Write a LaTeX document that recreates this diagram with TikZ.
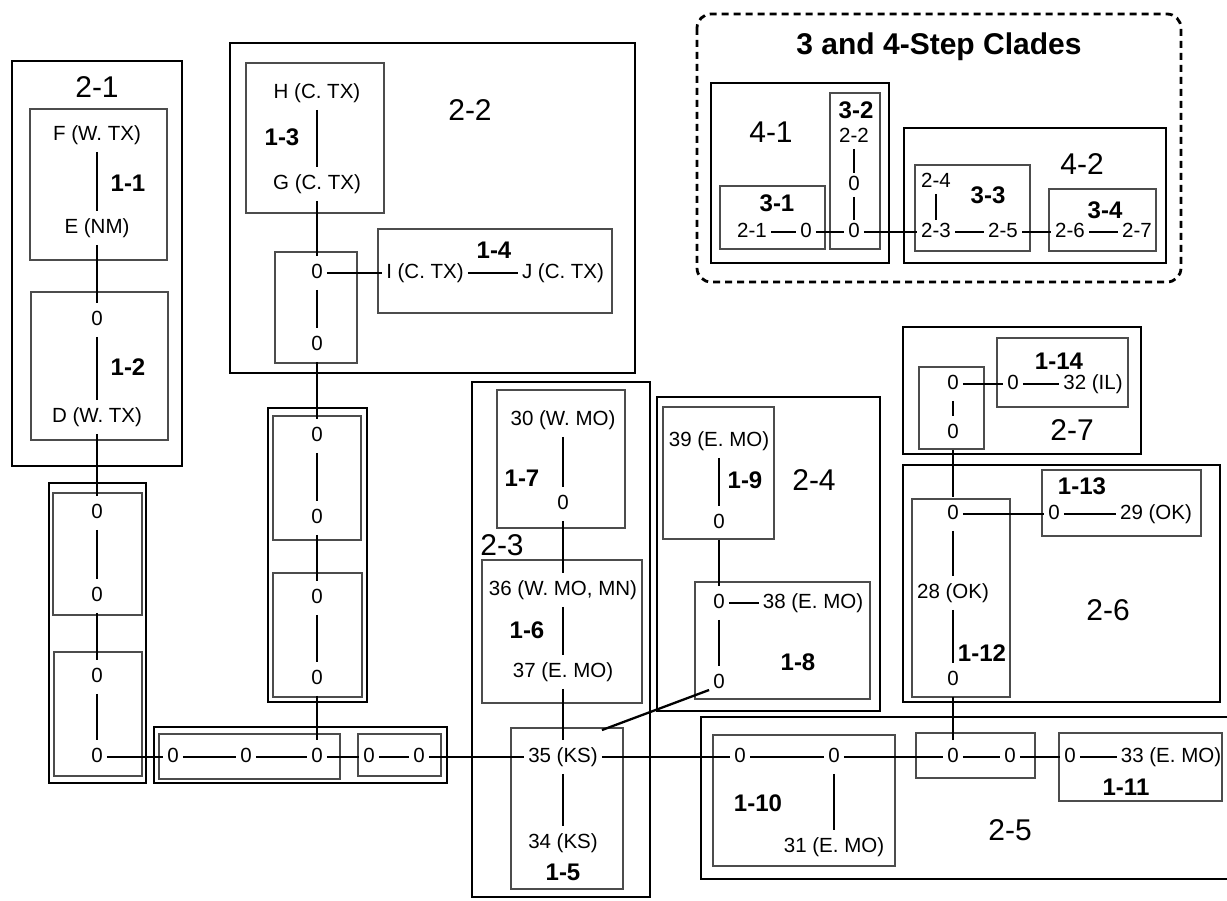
\documentclass[tikz,border=0pt]{standalone}
\usepackage{fontspec}
\setmainfont{Liberation Sans}

\begin{document}
\begin{tikzpicture}[
    x=1pt, y=-1pt,
    clade/.style={draw=black, line width=2.6pt},
    subclade/.style={draw=black!70, line width=1.2pt},
    hap/.style={font=\fontsize{20.5}{24}\selectfont, inner xsep=4pt, inner ysep=7pt, text height=15pt, text depth=4.5pt},
    cnode/.style={hap, inner ysep=2pt},
    steplab/.style={font=\fontsize{24}{28}\selectfont\bfseries},
    levellab/.style={font=\fontsize{30}{34}\selectfont},
    cladetitle/.style={font=\fontsize{30}{34}\selectfont\bfseries},
    link/.style={line width=2.3pt},
  ]
    \useasboundingbox (0,0) rectangle (1227,901);

    \draw[clade] (12,61) rectangle (182,466);
    \draw[subclade] (30,109) rectangle (167,260);
    \draw[subclade] (31,292) rectangle (168,440);
    \draw[clade] (49,483) rectangle (146,783);
    \draw[subclade] (53,493) rectangle (142,615);
    \draw[subclade] (54,652) rectangle (142,776);
    \draw[clade] (154,727) rectangle (447,783);
    \draw[subclade] (159,734) rectangle (340,779);
    \draw[subclade] (358,734) rectangle (441,776);

    \draw[clade] (230,43) rectangle (635,373);
    \draw[subclade] (246,63) rectangle (384,213);
    \draw[subclade] (275,252) rectangle (357,363);
    \draw[subclade] (378,229) rectangle (612,313);
    \draw[clade] (268,408) rectangle (367,702);
    \draw[subclade] (273,416) rectangle (361,540);
    \draw[subclade] (273,573) rectangle (362,697);

    \draw[clade] (472,382) rectangle (650,897);
    \draw[subclade] (497,390) rectangle (625,528);
    \draw[subclade] (482,560) rectangle (642,703);
    \draw[subclade] (511,728) rectangle (623,889);

    \draw[clade] (657,397) rectangle (880,711);
    \draw[subclade] (663,407) rectangle (774,539);
    \draw[subclade] (695,582) rectangle (870,699);

    \draw[clade] (1227,717) -- (701,717) -- (701,879) -- (1227,879);
    \draw[subclade] (713,735) rectangle (895,866);
    \draw[subclade] (916,733) rectangle (1035,778);
    \draw[subclade] (1059,733) rectangle (1222,801);

    \draw[clade] (903,465) rectangle (1220,702);
    \draw[subclade] (912,499) rectangle (1010,697);
    \draw[subclade] (1042,470) rectangle (1201,536);

    \draw[clade] (903,327) rectangle (1141,454);
    \draw[subclade] (919,367) rectangle (984,449);
    \draw[subclade] (997,338) rectangle (1128,407);

    \draw[line width=2.8pt, dash pattern=on 7pt off 5pt, rounded corners=14pt] (697,14) rectangle (1181,282);
    \draw[clade] (711,83) rectangle (889,263);
    \draw[subclade] (720,186) rectangle (825,249);
    \draw[subclade] (830,93) rectangle (880,249);
    \draw[clade] (904,128) rectangle (1166,263);
    \draw[subclade] (915,165) rectangle (1030,251);
    \draw[subclade] (1049,189) rectangle (1156,251);

    \node[levellab] (l21) at (97,87) {2-1};
    \node[steplab] (l11) at (128,183) {1-1};
    \node[steplab] (l12) at (128,367) {1-2};
    \node[levellab] (l22) at (470,110) {2-2};
    \node[steplab] (l13) at (282,137) {1-3};
    \node[steplab] (l14) at (494,250) {1-4};
    \node[levellab] (l23) at (502,545) {2-3};
    \node[steplab] (l17) at (522,478) {1-7};
    \node[steplab] (l16) at (527,630) {1-6};
    \node[steplab] (l15) at (563,872) {1-5};
    \node[levellab] (l24) at (814,480) {2-4};
    \node[steplab] (l19) at (745,480) {1-9};
    \node[steplab] (l18) at (798,662) {1-8};
    \node[levellab] (l25) at (1010,830) {2-5};
    \node[steplab] (l110) at (758,803) {1-10};
    \node[steplab] (l111) at (1126,787) {1-11};
    \node[levellab] (l26) at (1108,610) {2-6};
    \node[steplab] (l112) at (982,653) {1-12};
    \node[steplab] (l113) at (1082,486) {1-13};
    \node[levellab] (l27) at (1072,430) {2-7};
    \node[steplab] (l114) at (1059,361) {1-14};

    \node[cladetitle] (ttl) at (939,47) {3 and 4-Step Clades};
    \node[levellab] (l41) at (771,132) {4-1};
    \node[levellab] (l42) at (1082,164) {4-2};
    \node[steplab] (l31) at (777,203) {3-1};
    \node[steplab] (l32) at (856,110) {3-2};
    \node[steplab] (l33) at (988,195) {3-3};
    \node[steplab] (l34) at (1105,210) {3-4};

    \node[hap] (F) at (97,135) {F (W. TX)};
    \node[hap] (E) at (97,228) {E (NM)};
    \node[hap] (z12) at (97,320) {0};
    \node[hap] (D) at (97,417) {D (W. TX)};
    \node[hap] (za1) at (97,513) {0};
    \node[hap] (za2) at (97,596) {0};
    \node[hap] (za3) at (97,677) {0};
    \node[hap] (za4) at (97,757) {0};
    \node[hap] (zc1) at (173,757) {0};
    \node[hap] (zc2) at (246,757) {0};
    \node[hap] (zc3) at (317,757) {0};
    \node[hap] (zc4) at (369,757) {0};
    \node[hap] (zc5) at (419,757) {0};

    \node[hap] (H) at (317,93) {H (C. TX)};
    \node[hap] (G) at (317,184) {G (C. TX)};
    \node[hap] (zb1) at (317,273) {0};
    \node[hap] (zb2) at (317,345) {0};
    \node[hap] (I) at (425,273) {I (C. TX)};
    \node[hap] (J) at (563,273) {J (C. TX)};
    \node[hap] (zm1) at (317,436) {0};
    \node[hap] (zm2) at (317,518) {0};
    \node[hap] (zm3) at (317,598) {0};
    \node[hap] (zm4) at (317,679) {0};

    \node[hap] (n30) at (563,420) {30 (W. MO)};
    \node[hap] (z7) at (563,504) {0};
    \node[hap] (n36) at (563,590) {36 (W. MO, MN)};
    \node[hap] (n37) at (563,672) {37 (E. MO)};
    \node[hap] (n35) at (563,757) {35 (KS)};
    \node[hap] (n34) at (563,843) {34 (KS)};

    \node[hap] (n39) at (719,441) {39 (E. MO)};
    \node[hap] (z9) at (719,523) {0};
    \node[hap] (z8a) at (719,603) {0};
    \node[hap] (n38) at (813,603) {38 (E. MO)};
    \node[hap] (z8b) at (719,683) {0};

    \node[hap] (z10a) at (740,757) {0};
    \node[hap] (z10b) at (834,757) {0};
    \node[hap] (n31) at (834,847) {31 (E. MO)};
    \node[hap] (z25a) at (953,757) {0};
    \node[hap] (z25b) at (1010,757) {0};
    \node[hap] (z11) at (1070,757) {0};
    \node[hap] (n33) at (1171,757) {33 (E. MO)};

    \node[hap] (z26a) at (953,514) {0};
    \node[hap] (n28) at (953,593) {28 (OK)};
    \node[hap] (z26b) at (953,680) {0};
    \node[hap] (z13) at (1054,514) {0};
    \node[hap] (n29) at (1156,514) {29 (OK)};

    \node[hap] (z27a) at (953,384) {0};
    \node[hap] (z27b) at (953,433) {0};
    \node[hap] (z14) at (1013,384) {0};
    \node[hap] (n32) at (1093,384) {32 (IL)};

    \node[cnode] (c21) at (752,232) {2-1};
    \node[cnode] (cz1) at (806,232) {0};
    \node[cnode] (cz2) at (854,232) {0};
    \node[cnode] (c22) at (854,137) {2-2};
    \node[cnode] (cz3) at (854,185) {0};
    \node[cnode] (c23) at (936,232) {2-3};
    \node[cnode] (c24) at (936,182) {2-4};
    \node[cnode] (c25) at (1003,232) {2-5};
    \node[cnode] (c26) at (1070,232) {2-6};
    \node[cnode] (c27) at (1137,232) {2-7};

    \draw[link] (F) -- (E);
    \draw[link] (E) -- (z12);
    \draw[link] (z12) -- (D);
    \draw[link] (D) -- (za1);
    \draw[link] (za1) -- (za2);
    \draw[link] (za2) -- (za3);
    \draw[link] (za3) -- (za4);
    \draw[link] (za4) -- (zc1);
    \draw[link] (zc1) -- (zc2);
    \draw[link] (zc2) -- (zc3);
    \draw[link] (zc3) -- (zc4);
    \draw[link] (zc4) -- (zc5);
    \draw[link] (zc5) -- (n35);

    \draw[link] (H) -- (G);
    \draw[link] (G) -- (zb1);
    \draw[link] (zb1) -- (zb2);
    \draw[link] (zb1) -- (I);
    \draw[link] (I) -- (J);
    \draw[link] (zb2) -- (zm1);
    \draw[link] (zm1) -- (zm2);
    \draw[link] (zm2) -- (zm3);
    \draw[link] (zm3) -- (zm4);
    \draw[link] (zm4) -- (zc3);

    \draw[link] (n30) -- (z7);
    \draw[link] (z7) -- (n36);
    \draw[link] (n36) -- (n37);
    \draw[link] (n37) -- (n35);
    \draw[link] (n35) -- (n34);
    \draw[link] (n35) -- (z10a);
    \draw[link] ([yshift=10pt]n35.north east) -- ([yshift=-7pt]z8b.west);

    \draw[link] (n39) -- (z9);
    \draw[link] (z9) -- (z8a);
    \draw[link] (z8a) -- (n38);
    \draw[link] (z8a) -- (z8b);

    \draw[link] (z10a) -- (z10b);
    \draw[link] (z10b) -- (n31);
    \draw[link] (z10b) -- (z25a);
    \draw[link] (z25a) -- (z25b);
    \draw[link] (z25b) -- (z11);
    \draw[link] (z11) -- (n33);
    \draw[link] (z26b) -- (z25a);

    \draw[link] (z26a) -- (n28);
    \draw[link] (n28) -- (z26b);
    \draw[link] (z26a) -- (z13);
    \draw[link] (z13) -- (n29);
    \draw[link] (z27a) -- (z27b);
    \draw[link] (z27b) -- (z26a);
    \draw[link] (z27a) -- (z14);
    \draw[link] (z14) -- (n32);

    \draw[link] (c21) -- (cz1);
    \draw[link] (cz1) -- (cz2);
    \draw[link] (c22) -- (cz3);
    \draw[link] (cz3) -- (cz2);
    \draw[link] (cz2) -- (c23);
    \draw[link] (c24) -- (c23);
    \draw[link] (c23) -- (c25);
    \draw[link] (c25) -- (c26);
    \draw[link] (c26) -- (c27);
\end{tikzpicture}
\end{document}
